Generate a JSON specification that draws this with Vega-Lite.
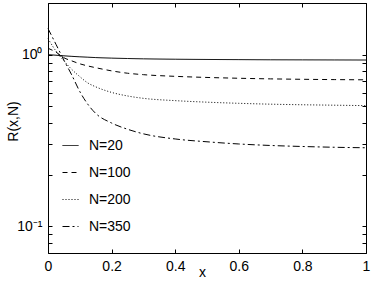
{
  "$schema": "https://vega.github.io/schema/vega-lite/v6.json",
  "width": 318,
  "height": 250,
  "autosize": "none",
  "padding": {"left": 48, "top": 3, "right": 8, "bottom": 32},
  "config": {
    "view": {"stroke": "black", "strokeWidth": 1},
    "font": "Liberation Sans",
    "axis": {"domainColor": "black", "tickColor": "black", "labelColor": "black", "titleColor": "black", "grid": false, "labelFont": "Liberation Sans", "titleFont": "Liberation Sans", "labelFontSize": 14, "titleFontSize": 14, "titleFontWeight": "normal"},
    "legend": {"labelFont": "Liberation Sans", "labelFontSize": 14, "labelColor": "black"}
  },
  "data": {"values": [
    {"x": 0, "R": 1.0, "N": "N=20"}, {"x": 0.025, "R": 0.993, "N": "N=20"}, {"x": 0.05, "R": 0.985, "N": "N=20"}, {"x": 0.075, "R": 0.978, "N": "N=20"}, {"x": 0.1, "R": 0.972, "N": "N=20"}, {"x": 0.125, "R": 0.967, "N": "N=20"}, {"x": 0.15, "R": 0.962, "N": "N=20"}, {"x": 0.2, "R": 0.955, "N": "N=20"}, {"x": 0.25, "R": 0.95, "N": "N=20"}, {"x": 0.3, "R": 0.946, "N": "N=20"}, {"x": 0.4, "R": 0.941, "N": "N=20"}, {"x": 0.5, "R": 0.938, "N": "N=20"}, {"x": 0.6, "R": 0.936, "N": "N=20"}, {"x": 0.7, "R": 0.934, "N": "N=20"}, {"x": 0.8, "R": 0.933, "N": "N=20"}, {"x": 0.9, "R": 0.932, "N": "N=20"}, {"x": 1.0, "R": 0.931, "N": "N=20"},
    {"x": 0, "R": 1.09, "N": "N=100"}, {"x": 0.025, "R": 1.035, "N": "N=100"}, {"x": 0.05, "R": 0.96, "N": "N=100"}, {"x": 0.075, "R": 0.92, "N": "N=100"}, {"x": 0.1, "R": 0.885, "N": "N=100"}, {"x": 0.125, "R": 0.86, "N": "N=100"}, {"x": 0.15, "R": 0.84, "N": "N=100"}, {"x": 0.2, "R": 0.805, "N": "N=100"}, {"x": 0.25, "R": 0.78, "N": "N=100"}, {"x": 0.3, "R": 0.765, "N": "N=100"}, {"x": 0.4, "R": 0.748, "N": "N=100"}, {"x": 0.5, "R": 0.737, "N": "N=100"}, {"x": 0.6, "R": 0.729, "N": "N=100"}, {"x": 0.7, "R": 0.723, "N": "N=100"}, {"x": 0.8, "R": 0.719, "N": "N=100"}, {"x": 0.9, "R": 0.716, "N": "N=100"}, {"x": 1.0, "R": 0.714, "N": "N=100"},
    {"x": 0, "R": 1.24, "N": "N=200"}, {"x": 0.025, "R": 1.05, "N": "N=200"}, {"x": 0.05, "R": 0.92, "N": "N=200"}, {"x": 0.075, "R": 0.82, "N": "N=200"}, {"x": 0.1, "R": 0.745, "N": "N=200"}, {"x": 0.125, "R": 0.685, "N": "N=200"}, {"x": 0.15, "R": 0.65, "N": "N=200"}, {"x": 0.2, "R": 0.603, "N": "N=200"}, {"x": 0.25, "R": 0.575, "N": "N=200"}, {"x": 0.3, "R": 0.557, "N": "N=200"}, {"x": 0.4, "R": 0.54, "N": "N=200"}, {"x": 0.5, "R": 0.529, "N": "N=200"}, {"x": 0.6, "R": 0.521, "N": "N=200"}, {"x": 0.7, "R": 0.515, "N": "N=200"}, {"x": 0.8, "R": 0.511, "N": "N=200"}, {"x": 0.9, "R": 0.508, "N": "N=200"}, {"x": 1.0, "R": 0.505, "N": "N=200"},
    {"x": 0, "R": 1.42, "N": "N=350"}, {"x": 0.025, "R": 1.15, "N": "N=350"}, {"x": 0.05, "R": 0.93, "N": "N=350"}, {"x": 0.075, "R": 0.76, "N": "N=350"}, {"x": 0.1, "R": 0.61, "N": "N=350"}, {"x": 0.125, "R": 0.515, "N": "N=350"}, {"x": 0.15, "R": 0.455, "N": "N=350"}, {"x": 0.2, "R": 0.4, "N": "N=350"}, {"x": 0.25, "R": 0.368, "N": "N=350"}, {"x": 0.3, "R": 0.346, "N": "N=350"}, {"x": 0.4, "R": 0.323, "N": "N=350"}, {"x": 0.5, "R": 0.311, "N": "N=350"}, {"x": 0.6, "R": 0.302, "N": "N=350"}, {"x": 0.7, "R": 0.296, "N": "N=350"}, {"x": 0.8, "R": 0.292, "N": "N=350"}, {"x": 0.9, "R": 0.289, "N": "N=350"}, {"x": 1.0, "R": 0.287, "N": "N=350"}
  ]},
  "resolve": {"axis": {"x": "independent", "y": "independent"}},
  "layer": [
    {
      "mark": {"type": "line", "interpolate": "monotone", "strokeWidth": 1, "color": "black"},
      "encoding": {
        "x": {"field": "x", "type": "quantitative", "scale": {"domain": [0, 1], "nice": false, "zero": false},
          "axis": {"orient": "bottom", "title": "x", "values": [0, 0.2, 0.4, 0.6, 0.8, 1], "labelExpr": "datum.value == 0 ? '0' : datum.value == 1 ? '1' : format(datum.value, '.1f')", "tickSize": -4, "labelPadding": 10, "labelFlush": false, "labelOverlap": false, "titleY": 12, "titleX": 154, "domain": false}},
        "y": {"field": "R", "type": "quantitative", "scale": {"type": "log", "domain": [0.07, 2], "nice": false},
          "axis": {"orient": "left", "title": "R(x,N)", "values": [0.07, 0.08, 0.09, 0.1, 0.2, 0.3, 0.4, 0.5, 0.6, 0.7, 0.8, 0.9, 1, 2], "labelExpr": "datum.value == 1 ? '10⁰' : datum.value == 0.1 ? '10⁻¹' : ''", "tickSize": -4, "labelPadding": 10, "labelFlush": false, "labelOverlap": false, "titleX": -28, "titleY": 118, "domain": false}},
        "strokeDash": {"field": "N", "type": "nominal", "title": null,
          "scale": {"domain": ["N=20", "N=100", "N=200", "N=350"], "range": [[1, 0], [5, 4], [1, 2], [7, 3, 2, 3]]},
          "legend": {"orient": "none", "legendX": 14, "legendY": 134, "symbolType": "stroke", "symbolSize": 256, "symbolStrokeColor": "black", "symbolStrokeWidth": 1, "labelOffset": 10, "rowPadding": 11}}
      }
    },
    {
      "mark": {"type": "line", "opacity": 0},
      "encoding": {
        "x": {"field": "x", "type": "quantitative", "axis": {"orient": "top", "title": null, "values": [0, 0.2, 0.4, 0.6, 0.8, 1], "labels": false, "tickSize": -4, "domain": false}},
        "y": {"field": "R", "type": "quantitative", "axis": {"orient": "right", "title": null, "values": [0.07, 0.08, 0.09, 0.1, 0.2, 0.3, 0.4, 0.5, 0.6, 0.7, 0.8, 0.9, 1, 2], "labels": false, "tickSize": -4, "domain": false}},
        "detail": {"field": "N"}
      }
    }
  ]
}
